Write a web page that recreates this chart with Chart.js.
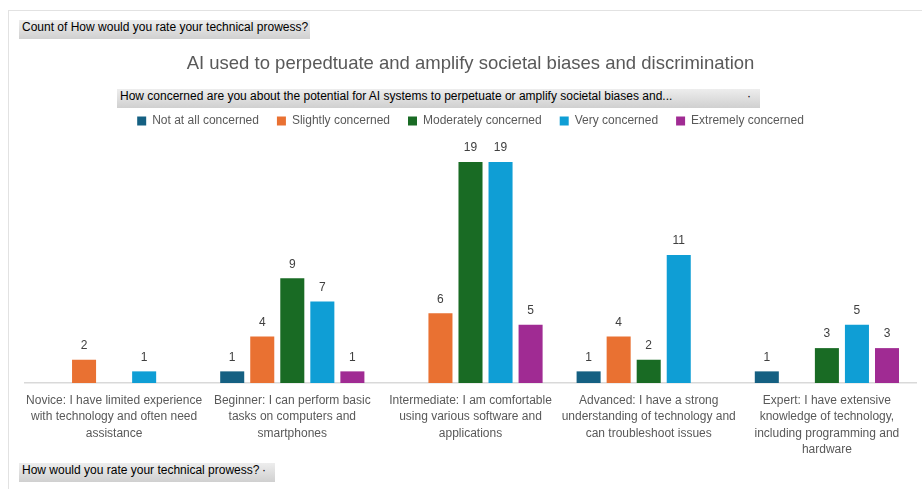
<!DOCTYPE html>
<html>
<head>
<meta charset="utf-8">
<title>AI biases pivot chart</title>
<script src="https://cdn.jsdelivr.net/npm/chart.js@4"></script>
<style>
  body { margin: 0; background: #fff; }
  #wrap { position: relative; width: 922px; height: 489px; overflow: hidden; }
  #wrap canvas { position: absolute; left: 0; top: 0; }
  .frame { position: absolute; left: 8px; top: 10px; width: 960px; height: 520px; border: 1px solid #e2e2e2; }
  .btn {
    position: absolute; height: 19px; line-height: 19px; box-sizing: border-box;
    padding-left: 3px; white-space: nowrap; color: #000;
    font: 12px "Liberation Sans", Arial, sans-serif;
    background: linear-gradient(#ededed, #d0d0d0);
  }
  .btn .arrow { position: absolute; right: 9px; top: 0; }
</style>
</head>
<body>
<div id="wrap">
  <div class="frame"></div>
  <canvas id="pivotchart" width="922" height="489"></canvas>
  <div class="btn" style="left:19px;top:20px;width:291px;">Count of How would you rate your technical prowess?</div>
  <div class="btn" style="left:117px;top:89px;width:643px;">How concerned are you about the potential for AI systems to perpetuate or amplify societal biases and...<span class="arrow">&middot;</span></div>
  <div class="btn" style="left:19px;top:463px;width:256px;">How would you rate your technical prowess?<span class="arrow">&middot;</span></div>
</div>
<script>
// skill levels along the x axis, pre-wrapped like the pivot chart labels
var categories = [
  ["Novice: I have limited experience", "with technology and often need", "assistance"],
  ["Beginner: I can perform basic", "tasks on computers and", "smartphones"],
  ["Intermediate: I am comfortable", "using various software and", "applications"],
  ["Advanced: I have a strong", "understanding of technology and", "can troubleshoot issues"],
  ["Expert: I have extensive", "knowledge of technology,", "including programming and", "hardware"]
];

var seriesNames = ["Not at all concerned", "Slightly concerned", "Moderately concerned", "Very concerned", "Extremely concerned"];
var seriesColors = ["#156082", "#E97132", "#196B24", "#0F9ED5", "#A02B93"];

// counts per skill level (null = no responses)
var notAtAll   = [null, 1, null, 1, 1];
var slightly   = [2, 4, 6, 4, null];
var moderately = [null, 9, 19, 2, 3];
var very       = [1, 7, 19, 11, 5];
var extremely  = [null, 1, 5, null, 3];

var seriesValues = [notAtAll, slightly, moderately, very, extremely];

var fontFamily = '"Liberation Sans", Arial, sans-serif';

// writes the count above every bar
const valueLabels = {
  id: "valueLabels",
  afterDatasetsDraw: (chart) => {
    let ctx = chart.ctx;
    ctx.save();
    ctx.font = "12px " + fontFamily;
    ctx.fillStyle = "#404040";
    ctx.textAlign = "center";
    ctx.textBaseline = "middle";
    chart.data.datasets.forEach((ds, i) => {
      chart.getDatasetMeta(i).data.forEach((bar, j) => {
        if (ds.data[j] == null) return;
        ctx.fillText(ds.data[j], bar.x, bar.y - 14);
      });
    });
    ctx.restore();
  },
};

var datasets = seriesNames.map((name, i) => ({
  label: name,
  data: seriesValues[i],
  backgroundColor: seriesColors[i],
  borderWidth: 0,
  categoryPercentage: 0.843,
  barPercentage: 0.8,
}));

var ctx = document.getElementById("pivotchart").getContext("2d");

var chart = new Chart(ctx, {
  type: "bar",
  plugins: [valueLabels],
  data: {
    labels: categories,
    datasets: datasets,
  },
  options: {
    responsive: false,
    animation: false,
    layout: {
      padding: { top: 40, left: 25, right: 6, bottom: 30 },
    },
    plugins: {
      tooltip: { enabled: false },
      title: {
        display: true,
        text: "AI used to perpedtuate and amplify societal biases and discrimination",
        color: "#595959",
        font: { family: fontFamily, size: 18.5, weight: "normal" },
        padding: { top: 13, bottom: 21.8 },
      },
      legend: {
        position: "top",
        labels: {
          boxWidth: 9,
          boxHeight: 9,
          padding: 18,
          color: "#595959",
          font: { family: fontFamily, size: 12 },
        },
      },
    },
    scales: {
      x: {
        grid: { display: false },
        border: { color: "#d9d9d9", width: 1.5 },
        ticks: {
          color: "#595959",
          font: { family: fontFamily, size: 12, lineHeight: 1.375 },
          padding: 1,
          maxRotation: 0,
          autoSkip: false,
        },
      },
      y: {
        display: false,
        min: 0,
        max: 21.15,
      },
    },
  },
});
</script>
</body>
</html>
